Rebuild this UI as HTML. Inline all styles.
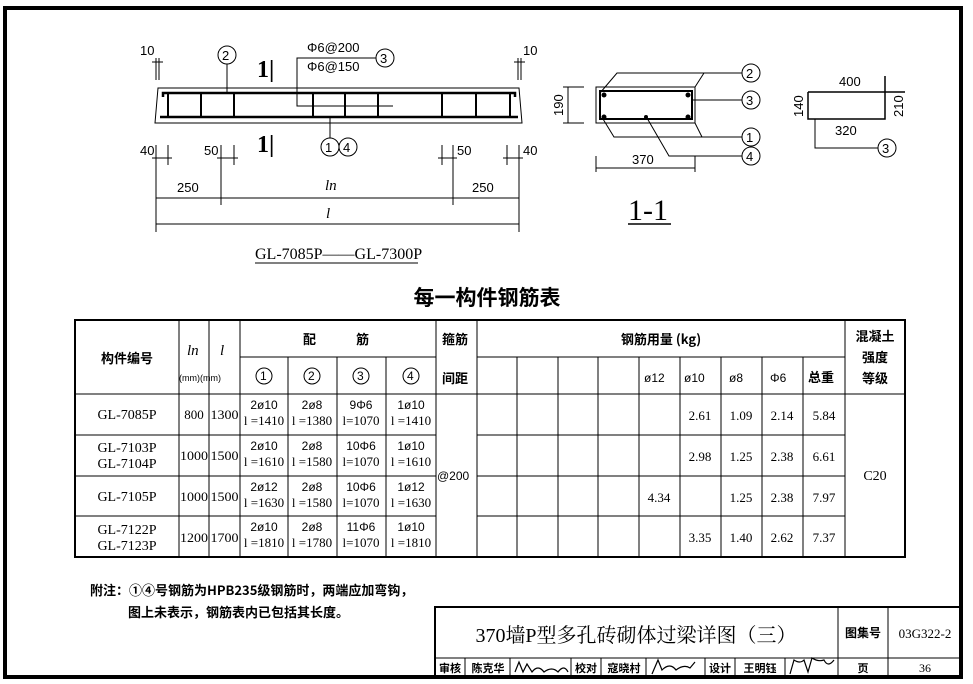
<!DOCTYPE html>
<html><head><meta charset="utf-8"><style>
html,body{margin:0;padding:0;background:#fff}
svg{display:block}
text{font-family:"Liberation Sans","Noto Sans CJK SC",sans-serif;fill:#000}
.s,.s text{font-family:"Liberation Serif","Noto Serif CJK SC","Noto Sans CJK SC",serif}
.c,.c text{font-family:"Noto Sans CJK SC","Liberation Sans",sans-serif;font-weight:bold}
</style></head><body>
<svg width="973" height="684" viewBox="0 0 973 684" xmlns="http://www.w3.org/2000/svg">
<g fill="none" stroke="#000">
<rect x="5" y="8" width="956" height="669" stroke-width="4"/>
<path d="M158 88 L519 88 L522 123 L155 123 Z" stroke-width="1"/>
<path d="M163 97 L163 93 L515 93 L515 97" stroke-width="2.5"/>
<line x1="160" y1="117" x2="518" y2="117" stroke-width="2.5"/>
<g stroke-width="2">
<line x1="168" y1="93" x2="168" y2="117"/><line x1="201" y1="93" x2="201" y2="117"/><line x1="234" y1="93" x2="234" y2="117"/>
<line x1="313" y1="93" x2="313" y2="117"/><line x1="345" y1="93" x2="345" y2="117"/><line x1="378" y1="93" x2="378" y2="117"/>
<line x1="442" y1="93" x2="442" y2="117"/><line x1="476" y1="93" x2="476" y2="117"/><line x1="510" y1="93" x2="510" y2="117"/>
</g>
<path d="M393 106 L297 106 L297 58 L376 58" stroke-width="1"/>
<line x1="227" y1="64" x2="227" y2="93"/>
<line x1="330" y1="117" x2="330" y2="138"/>
<circle cx="227" cy="55" r="9"/><circle cx="385" cy="58" r="9"/>
<circle cx="330" cy="147" r="9"/><circle cx="348" cy="147" r="9"/>
<g stroke-width="1">
<line x1="156" y1="58" x2="156" y2="80"/><line x1="159" y1="58" x2="159" y2="80"/><line x1="152" y1="62" x2="163" y2="62"/>
<line x1="518" y1="58" x2="518" y2="80"/><line x1="521" y1="58" x2="521" y2="80"/><line x1="514" y1="62" x2="525" y2="62"/>
</g>
<line x1="156" y1="145" x2="156" y2="232"/><line x1="221" y1="145" x2="221" y2="205"/>
<line x1="453" y1="145" x2="453" y2="205"/><line x1="519" y1="145" x2="519" y2="232"/>
<line x1="168" y1="145" x2="168" y2="165"/><line x1="234" y1="145" x2="234" y2="165"/>
<line x1="442" y1="145" x2="442" y2="165"/><line x1="507" y1="145" x2="507" y2="165"/>
<line x1="152" y1="158" x2="172" y2="158"/><line x1="217" y1="158" x2="238" y2="158"/>
<line x1="438" y1="158" x2="457" y2="158"/><line x1="503" y1="158" x2="523" y2="158"/>
<line x1="156" y1="198" x2="519" y2="198"/>
<line x1="156" y1="224" x2="519" y2="224"/>
<line x1="255" y1="263" x2="418" y2="263"/>
<rect x="596" y="87" width="99" height="36"/>
<rect x="600" y="91" width="92" height="28" stroke-width="2"/>
<path d="M600 93 L617 73 L742 73 M695 87 L704 73"/>
<line x1="692" y1="100" x2="742" y2="100"/>
<path d="M603 119 L614 137 L742 137 M695 123 L702 137"/>
<path d="M647 118 L669 156 L742 156"/>
<circle cx="751" cy="73" r="9"/><circle cx="751" cy="100" r="9"/><circle cx="751" cy="137" r="9"/><circle cx="751" cy="156" r="9"/>
<line x1="568" y1="87" x2="568" y2="123"/><line x1="563" y1="87" x2="584" y2="87"/><line x1="563" y1="123" x2="584" y2="123"/>
<line x1="596" y1="156" x2="596" y2="172"/><line x1="695" y1="156" x2="695" y2="172"/><line x1="596" y1="168" x2="695" y2="168"/>
<line x1="628" y1="224" x2="671" y2="224" stroke-width="1.5"/>
<path d="M808 92 L905 92 M885 76 L885 119 L808 119 L808 92" stroke-width="1.5"/>
<path d="M815 119 L815 148 L878 148"/>
<circle cx="887" cy="148" r="9"/>
</g>
<g fill="#000">
<circle cx="604" cy="95" r="2.5"/><circle cx="688" cy="95" r="2.5"/><circle cx="604" cy="117" r="2.5"/><circle cx="688" cy="117" r="2.5"/><circle cx="646" cy="117" r="2"/>
</g>
<g font-size="13">
<text x="140" y="55">10</text><text x="523" y="55">10</text>
<text x="222" y="60">2</text><text x="380" y="63">3</text><text x="325" y="152">1</text><text x="343" y="152">4</text>
<text x="307" y="52">Φ6@200</text><text x="307" y="71">Φ6@150</text>
<text x="140" y="155">40</text><text x="204" y="155">50</text><text x="457" y="155">50</text><text x="523" y="155">40</text>
<text x="177" y="192">250</text><text x="472" y="192">250</text>
<text x="746" y="78">2</text><text x="746" y="105">3</text><text x="746" y="142">1</text><text x="746" y="161">4</text>
<text x="632" y="164">370</text>
<text x="839" y="86">400</text><text x="835" y="135">320</text><text x="882" y="153">3</text>
<text transform="translate(563,116) rotate(-90)">190</text>
<text transform="translate(803,117) rotate(-90)">140</text>
<text transform="translate(903,117) rotate(-90)">210</text>
</g>
<text x="325" y="190" font-size="15" class="s" font-style="italic">ln</text>
<text x="326" y="218" font-size="15" class="s" font-style="italic">l</text>
<text x="257" y="77" font-size="24" font-weight="bold" class="s">1|</text>
<text x="257" y="152" font-size="24" font-weight="bold" class="s">1|</text>
<text x="255" y="259" font-size="16" class="s">GL-7085P——GL-7300P</text>
<text x="628" y="220" font-size="30" class="s">1-1</text>
<text x="487" y="305" font-size="21" text-anchor="middle" class="c" font-weight="normal">每一构件钢筋表</text>
<g fill="none" stroke="#000" stroke-width="1">
<rect x="75" y="320" width="830" height="237" stroke-width="2"/>
<line x1="75" y1="394" x2="905" y2="394"/><line x1="75" y1="435" x2="436" y2="435"/><line x1="477" y1="435" x2="845" y2="435"/>
<line x1="75" y1="476" x2="436" y2="476"/><line x1="477" y1="476" x2="845" y2="476"/>
<line x1="75" y1="516" x2="436" y2="516"/><line x1="477" y1="516" x2="845" y2="516"/>
<line x1="240" y1="357" x2="436" y2="357"/><line x1="477" y1="357" x2="845" y2="357"/>
<line x1="179" y1="320" x2="179" y2="557"/><line x1="209" y1="320" x2="209" y2="557"/><line x1="240" y1="320" x2="240" y2="557"/>
<line x1="288" y1="357" x2="288" y2="557"/><line x1="337" y1="357" x2="337" y2="557"/><line x1="386" y1="357" x2="386" y2="557"/>
<line x1="436" y1="320" x2="436" y2="557"/><line x1="477" y1="320" x2="477" y2="557"/>
<line x1="517" y1="357" x2="517" y2="557"/><line x1="558" y1="357" x2="558" y2="557"/><line x1="598" y1="357" x2="598" y2="557"/>
<line x1="639" y1="357" x2="639" y2="557"/><line x1="680" y1="357" x2="680" y2="557"/><line x1="721" y1="357" x2="721" y2="557"/>
<line x1="762" y1="357" x2="762" y2="557"/><line x1="803" y1="357" x2="803" y2="557"/><line x1="845" y1="320" x2="845" y2="557"/>
<circle cx="264" cy="376" r="8"/><circle cx="312" cy="376" r="8"/><circle cx="361" cy="376" r="8"/><circle cx="411" cy="376" r="8"/>
</g>
<g font-size="13">
<text x="127" y="363" text-anchor="middle" class="c">构件编号</text>
<text x="187" y="355" class="s" font-style="italic" font-size="15">ln</text><text x="220" y="355" class="s" font-style="italic" font-size="15">l</text>
<text x="179" y="381" font-size="9">(mm)(mm)</text>
<text x="303" y="344" class="c">配</text><text x="356" y="344" class="c">筋</text>
<text x="442" y="344" class="c">箍筋</text><text x="442" y="383" class="c">间距</text>
<text x="661" y="344" text-anchor="middle" class="c">钢筋用量 (kg)</text>
<text x="875" y="341" text-anchor="middle" class="c">混凝土</text><text x="875" y="362" text-anchor="middle" class="c">强度</text><text x="875" y="383" text-anchor="middle" class="c">等级</text>
<g font-size="12"><text x="260" y="380">1</text><text x="308" y="380">2</text><text x="357" y="380">3</text><text x="407" y="380">4</text></g>
<g font-size="12"><text x="644" y="382">ø12</text><text x="684" y="382">ø10</text><text x="729" y="382">ø8</text><text x="770" y="382">Φ6</text></g>
<text x="808" y="382" class="c">总重</text>
<g class="s" font-size="14" text-anchor="middle">
<text x="127" y="419">GL-7085P</text>
<text x="127" y="452">GL-7103P</text><text x="127" y="468">GL-7104P</text>
<text x="127" y="501">GL-7105P</text>
<text x="127" y="534">GL-7122P</text><text x="127" y="550">GL-7123P</text>
</g>
<g class="s" font-size="13" text-anchor="middle">
<text x="194" y="419">800</text><text x="224.5" y="419" textLength="28" lengthAdjust="spacingAndGlyphs">1300</text>
<text x="194" y="460" textLength="28" lengthAdjust="spacingAndGlyphs">1000</text><text x="224.5" y="460" textLength="28" lengthAdjust="spacingAndGlyphs">1500</text>
<text x="194" y="501" textLength="28" lengthAdjust="spacingAndGlyphs">1000</text><text x="224.5" y="501" textLength="28" lengthAdjust="spacingAndGlyphs">1500</text>
<text x="194" y="542" textLength="28" lengthAdjust="spacingAndGlyphs">1200</text><text x="224.5" y="542" textLength="28" lengthAdjust="spacingAndGlyphs">1700</text>
<text x="875" y="480" font-size="14">C20</text>
</g>
<g font-size="12" text-anchor="middle">
<text x="264" y="409">2ø10</text><text x="312" y="409">2ø8</text><text x="361" y="409">9Φ6</text><text x="411" y="409">1ø10</text>
<text x="264" y="450">2ø10</text><text x="312" y="450">2ø8</text><text x="361" y="450">10Φ6</text><text x="411" y="450">1ø10</text>
<text x="264" y="491">2ø12</text><text x="312" y="491">2ø8</text><text x="361" y="491">10Φ6</text><text x="411" y="491">1ø12</text>
<text x="264" y="531">2ø10</text><text x="312" y="531">2ø8</text><text x="361" y="531">11Φ6</text><text x="411" y="531">1ø10</text>
</g>
<g font-size="13" class="s" text-anchor="middle">
<text x="264" y="425">l =1410</text><text x="312" y="425">l =1380</text><text x="361" y="425">l=1070</text><text x="411" y="425">l =1410</text>
<text x="264" y="466">l =1610</text><text x="312" y="466">l =1580</text><text x="361" y="466">l=1070</text><text x="411" y="466">l =1610</text>
<text x="264" y="507">l =1630</text><text x="312" y="507">l =1580</text><text x="361" y="507">l=1070</text><text x="411" y="507">l =1630</text>
<text x="264" y="547">l =1810</text><text x="312" y="547">l =1780</text><text x="361" y="547">l=1070</text><text x="411" y="547">l =1810</text>
<text x="700" y="420">2.61</text><text x="741" y="420">1.09</text><text x="782" y="420">2.14</text><text x="824" y="420">5.84</text>
<text x="700" y="461">2.98</text><text x="741" y="461">1.25</text><text x="782" y="461">2.38</text><text x="824" y="461">6.61</text>
<text x="659" y="502">4.34</text><text x="741" y="502">1.25</text><text x="782" y="502">2.38</text><text x="824" y="502">7.97</text>
<text x="700" y="542">3.35</text><text x="741" y="542">1.40</text><text x="782" y="542">2.62</text><text x="824" y="542">7.37</text>
</g>
<text x="437" y="480" font-size="12">@200</text>
</g>
<text x="90" y="595" font-size="13" class="c">附注：①④号钢筋为HPB235级钢筋时，两端应加弯钩，</text>
<text x="128" y="617" font-size="13" class="c">图上未表示，钢筋表内已包括其长度。</text>
<g fill="none" stroke="#000">
<path d="M435 677 L435 607 L961 607" stroke-width="2"/>
<line x1="435" y1="658" x2="961" y2="658"/>
<line x1="838" y1="607" x2="838" y2="677"/><line x1="888" y1="607" x2="888" y2="677"/>
<g stroke-width="1"><line x1="465" y1="658" x2="465" y2="677"/><line x1="510" y1="658" x2="510" y2="677"/><line x1="571" y1="658" x2="571" y2="677"/><line x1="601" y1="658" x2="601" y2="677"/><line x1="646" y1="658" x2="646" y2="677"/><line x1="705" y1="658" x2="705" y2="677"/><line x1="735" y1="658" x2="735" y2="677"/><line x1="785" y1="658" x2="785" y2="677"/></g>
<path d="M515 672 l4 -10 l4 10 l4 -8 l5 8 q6 -8 12 0 q8 -6 14 0 q6-8 10 0" stroke-width="1.2"/>
<path d="M652 674 l6 -14 l4 10 q8 -8 14 0 q8 -6 14 -2 l5 -6" stroke-width="1.2"/>
<path d="M790 674 l4 -14 q6 4 10 0 l4 12 l4 -14 q6 4 12 2 q4 8 10 0" stroke-width="1.2"/>
</g>
<text x="636" y="642" font-size="20" text-anchor="middle" class="s">370墙P型多孔砖砌体过梁详图（三）</text>
<text x="863" y="637" font-size="12" text-anchor="middle" class="c">图集号</text>
<text x="925" y="638" font-size="13" text-anchor="middle" class="s">03G322-2</text>
<g font-size="11" class="c" text-anchor="middle">
<text x="450" y="672">审核</text><text x="488" y="672">陈克华</text><text x="586" y="672">校对</text><text x="624" y="672">寇晓村</text>
<text x="720" y="672">设计</text><text x="760" y="672">王明钰</text><text x="863" y="672">页</text>
</g>
<text x="925" y="672" font-size="12" text-anchor="middle" class="s">36</text>
</svg>
</body></html>
